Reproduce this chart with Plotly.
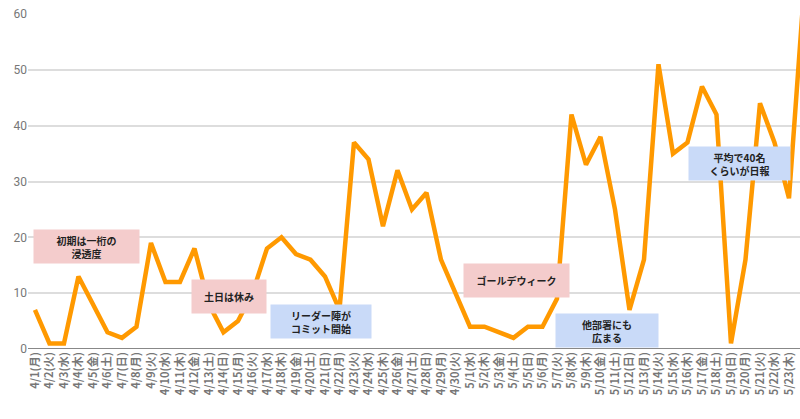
import plotly.graph_objects as go

days = ["4/1(月)", "4/2(火)", "4/3(水)", "4/4(木)", "4/5(金)", "4/6(土)", "4/7(日)",
        "4/8(月)", "4/9(火)", "4/10(水)", "4/11(木)", "4/12(金)", "4/13(土)", "4/14(日)",
        "4/15(月)", "4/16(火)", "4/17(水)", "4/18(木)", "4/19(金)", "4/20(土)", "4/21(日)",
        "4/22(月)", "4/23(火)", "4/24(水)", "4/25(木)", "4/26(金)", "4/27(土)", "4/28(日)",
        "4/29(月)", "4/30(火)", "5/1(水)", "5/2(木)", "5/3(金)", "5/4(土)", "5/5(日)",
        "5/6(月)", "5/7(火)", "5/8(水)", "5/9(木)", "5/10(金)", "5/11(土)", "5/12(日)",
        "5/13(月)", "5/14(火)", "5/15(水)", "5/16(木)", "5/17(金)", "5/18(土)", "5/19(日)",
        "5/20(月)", "5/21(火)", "5/22(水)", "5/23(木)", "5/24(金)"]
reports = [7, 1, 1, 13, 8, 3, 2,
           4, 19, 12, 12, 18, 8, 3,
           5, 10, 18, 20, 17, 16, 13,
           7, 37, 34, 22, 32, 25, 28,
           16, 10, 4, 4, 3, 2, 4,
           4, 9, 42, 33, 38, 25, 7,
           16, 51, 35, 37, 47, 42, 1,
           16, 44, 37, 27, 63]

notes = ["初期は一桁の<br>浸透度", "土日は休み", "リーダー陣が<br>コミット開始",
         "ゴールデウィーク", "他部署にも<br>広まる", "平均で40名<br>くらいが日報"]
note_x = [3.55, 13.38, 19.72, 33.2, 39.43, 48.62]
note_y = [18.3, 9.4, 4.84, 12.2, 3.4, 33.3]
note_w = [103, 72, 98, 103, 100, 99]
note_kind = ["pink", "pink", "blue", "pink", "blue", "blue"]
colors = {"pink": "#f4cccc", "blue": "#c9daf8"}

fig = go.Figure(go.Scatter(x=days, y=reports, mode="lines",
                           line=dict(color="#ff9900", width=4.5)))

for t, x, y, w, k in zip(notes, note_x, note_y, note_w, note_kind):
    fig.add_annotation(x=x, y=y, text=t, showarrow=False, width=w, height=31,
                       bgcolor=colors[k], align="center", valign="middle",
                       font=dict(size=10, color="#222222", family="Noto Sans CJK JP",
                                 weight="bold"))

fig.update_layout(
    width=800, height=419,
    margin=dict(l=28, r=0, t=14, b=70),
    plot_bgcolor="white", paper_bgcolor="white",
    showlegend=False,
    font=dict(family="Noto Sans CJK JP"),
    xaxis=dict(type="category", range=[-0.48, 52.76], tickangle=-90, automargin=False,
               showgrid=False, ticks="",
               tickfont=dict(size=11, color="#777777", weight="bold"),
               showline=False, zeroline=False),
    yaxis=dict(range=[0, 60], dtick=10, gridcolor="#dddddd", gridwidth=1.5,
               automargin=False, ticks="",
               tickfont=dict(size=12, color="#777777", family="Roboto"),
               zeroline=False, showline=False),
)
fig.add_shape(type="line", xref="paper", yref="y", x0=0, x1=1, y0=0, y1=0,
              line=dict(color="#888888", width=2))

# page body has a default 8px margin, drop it so the chart sits at the corner
fig.write_html("out.html", config={"displayModeBar": False},
               post_script="document.body.style.margin='0';")
